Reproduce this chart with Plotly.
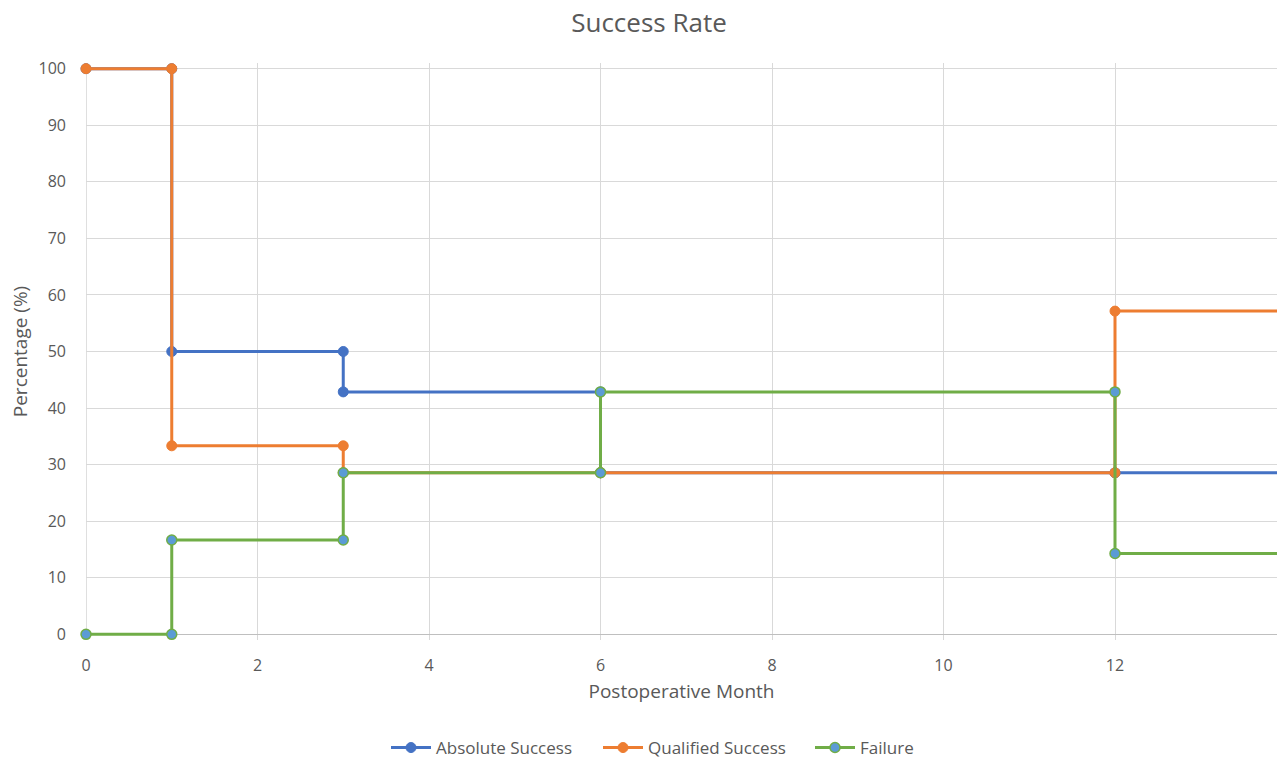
import plotly.graph_objects as go

# Step-curve data: each change is stored as two points at the same month
months = [0, 1, 1, 3, 3, 6, 6, 12, 12, 14]
absolute_success = [100, 100, 50, 50, 42.86, 42.86, 28.57, 28.57, 28.57, 28.57]
qualified_success = [100, 100, 33.33, 33.33, 28.57, 28.57, 28.57, 28.57, 57.14, 57.14]
failure = [0, 0, 16.67, 16.67, 28.57, 28.57, 42.86, 42.86, 14.29, 14.29]

x_ticks = [0, 2, 4, 6, 8, 10, 12]
y_ticks = [0, 10, 20, 30, 40, 50, 60, 70, 80, 90, 100]

FONT = "'Open Sans', sans-serif"
TEXT = "#595959"
AXIS = "#BFBFBF"
W, H = 1277, 758

# Pixel layout of the plotting area (0..100 % spans 565 px, 1 month = 85.75 px)
PX_PER_PCT = 5.65
PAD = 1.0  # small padding in % so lines drawn at 0 and 100 are not clipped
top = 69 - PAD * PX_PER_PCT
bottom = 124 - PAD * PX_PER_PCT
left = 86
plot_w = W - left

fig = go.Figure()
fig.add_trace(go.Scatter(
    x=months, y=absolute_success, name="Absolute Success", mode="lines+markers",
    line=dict(color="#4472C4", width=3),
    marker=dict(color="#4472C4", size=10, line=dict(color="#4472C4", width=1)),
))
fig.add_trace(go.Scatter(
    x=months, y=qualified_success, name="Qualified Success", mode="lines+markers",
    line=dict(color="#ED7D31", width=3),
    marker=dict(color="#ED7D31", size=10, line=dict(color="#ED7D31", width=1)),
))
fig.add_trace(go.Scatter(
    x=months, y=failure, name="Failure", mode="lines+markers",
    line=dict(color="#70AD47", width=3),
    marker=dict(color="#5B9BD5", size=10, line=dict(color="#70AD47", width=1.5)),
))

# Vertical axis line at month 0, spanning 0..100 %
fig.add_shape(type="line", x0=0, x1=0, y0=0, y1=100, xref="x", yref="y",
              line=dict(color=AXIS, width=1), layer="below")

fig.update_layout(
    width=W, height=H,
    margin=dict(l=left, r=0, t=top, b=bottom, autoexpand=False),
    paper_bgcolor="white", plot_bgcolor="white",
    font=dict(family=FONT, color=TEXT, size=16),
    title=dict(text="Success Rate", x=(649 - left) / plot_w, xref="paper",
               y=1 - 23 / H, yref="container", xanchor="center", yanchor="middle",
               font=dict(family=FONT, size=26, color=TEXT)),
    showlegend=True,
    legend=dict(orientation="h", x=(386 - left) / plot_w, xanchor="left",
                y=1 - 748 / H, yref="container", yanchor="middle",
                itemwidth=40, entrywidth=157, entrywidthmode="pixels",
                font=dict(family=FONT, size=17, color=TEXT), bgcolor="rgba(0,0,0,0)"),
    xaxis=dict(
        range=[0, plot_w / 85.75], tickvals=x_ticks, ticktext=[str(v) for v in x_ticks],
        showgrid=True, gridcolor="#D9D9D9", gridwidth=1,
        zeroline=False, showline=False, automargin=False,
        ticks="", ticklabelstandoff=14,
        tickfont=dict(family=FONT, size=16, color=TEXT),
        title=dict(text="Postoperative Month", font=dict(family=FONT, size=19, color=TEXT), standoff=9),
    ),
    yaxis=dict(
        range=[-PAD, 100 + PAD], tickvals=y_ticks, ticktext=[str(v) for v in y_ticks],
        showgrid=True, gridcolor="#D9D9D9", gridwidth=1,
        zeroline=True, zerolinecolor=AXIS, zerolinewidth=1, showline=False, automargin=False,
        ticks="", ticklabelstandoff=19,
        tickfont=dict(family=FONT, size=16, color=TEXT),
        title=dict(text="Percentage (%)", font=dict(family=FONT, size=19, color=TEXT), standoff=5),
    ),
)

for tr in fig.data:
    tr.cliponaxis = False

fig.write_html("out.html")
